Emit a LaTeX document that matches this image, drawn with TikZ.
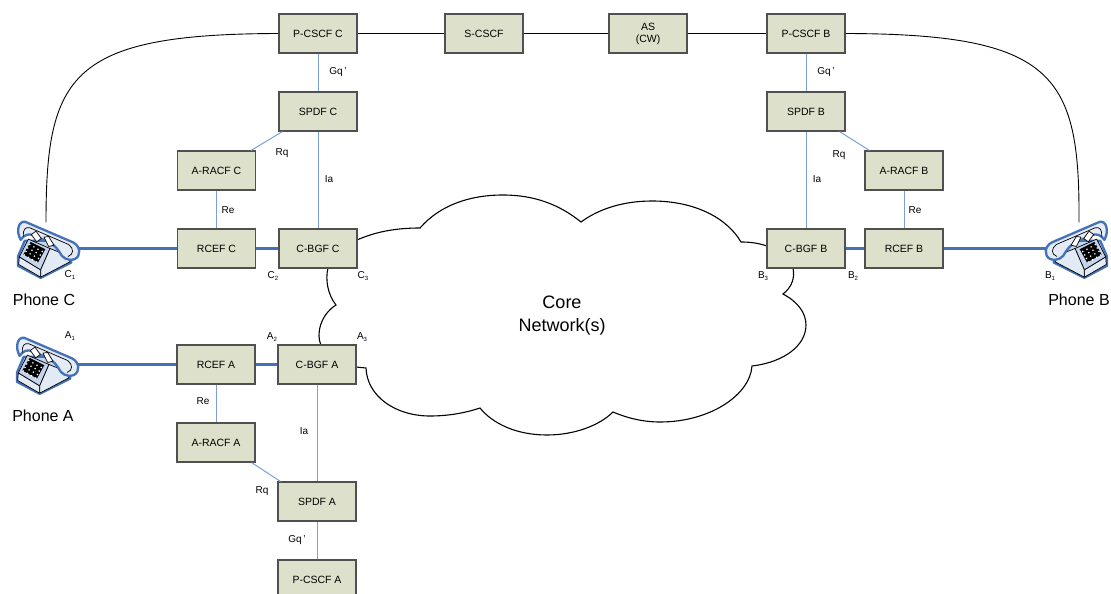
\documentclass[tikz,border=0pt]{standalone}
\usepackage{fontspec}
\setmainfont{Liberation Sans}
\newcommand*{\boxfont}{\fontsize{10.5}{12}\selectfont}
\newcommand*{\portn}[2]{#1\raisebox{-2pt}{\fontsize{6}{6}\selectfont #2}}
\definecolor{boxfill}{HTML}{DDE1CB}
\definecolor{boxedge}{HTML}{505050}
\definecolor{ctrl}{HTML}{7BA0D8}
\definecolor{media}{HTML}{4472B8}
\definecolor{phonelight}{HTML}{E4EBF5}
\definecolor{phonemid}{HTML}{C3D4EC}
\usetikzlibrary{arrows}
\tikzstyle{base}=[x=1pt, y=-1pt]
\tikzstyle{box}=[draw=boxedge, line width=1.1pt, fill=boxfill, minimum width=78pt, minimum height=39pt, inner sep=0pt, align=center, font=\boxfont]
\tikzstyle{lbl}=[inner sep=0pt, font=\fontsize{10}{12}\selectfont]
\tikzstyle{phonelbl}=[inner sep=0pt, font=\fontsize{16}{18}\selectfont]
\tikzstyle{phonebox}=[minimum width=56pt, minimum height=52pt, inner sep=0pt]
\tikzstyle{sig}=[black, line width=0.9pt]
\tikzstyle{ctl}=[ctrl, line width=1pt]
\tikzstyle{med}=[media, line width=3pt]
\tikzstyle{phoneline}=[media, line width=2.3pt, line join=round]
\tikzstyle{phoneink}=[black, line width=0.7pt, line join=round]
% telephone, drawn in a 216 x 216 grid centred on its node
\tikzset{phonepic/.pic={
    \begin{scope}[shift={(-108,-108)}]
        \draw [phoneline, fill=phonemid] (44,85) -- (24,132) -- (24,160) -- (92,196) -- (184,150) -- (178,125) -- (120,85) -- cycle;
        \draw [phoneink, fill=phonelight] (28,133) -- (92,172) -- (92,194) -- (26,156) -- cycle;
        \draw [phoneink, fill=phonemid] (55,80) -- (28,133) -- (92,172) -- (120,108) -- cycle;
        \draw [phoneink, fill=phonemid!50!white] (120,108) -- (92,172) -- (92,194) -- (180,148) -- (170,128) -- cycle;
        \fill [black] (62,88) -- (40,126) -- (84,150) -- (106,110) -- cycle;
        \foreach \i in {0,...,3}
            \foreach \j in {0,...,3}
                \fill [white] ({59+\i*12.5-\j*5.5},{96+\i*7+\j*10.5}) circle (2.6);
        \draw [phoneline, fill=phonelight] (32,82) .. controls (18,58) and (24,24) .. (46,28) -- (190,90) .. controls (212,102) and (214,130) .. (194,140) .. controls (172,146) and (156,136) .. (148,118) .. controls (138,100) and (118,88) .. (92,78) -- (70,68) .. controls (54,62) and (42,68) .. (32,82) -- cycle;
        \draw [phoneink] (40,72) .. controls (38,52) and (46,42) .. (60,46) -- (176,96) .. controls (192,108) and (192,126) .. (174,132);
        \draw [phoneink, fill=white] (64,66) -- (78,56) -- (94,78) -- (80,88) -- cycle;
        \draw [phoneink, fill=white] (102,74) -- (116,72) -- (132,98) -- (116,102) -- cycle;
    \end{scope}
}}

\begin{document}
\begin{tikzpicture}[base]
    \clip (0,0) rectangle (1111,594);
    \path [use as bounding box] (0,0) rectangle (1111,594);

    % core network
    \draw [black, line width=1.1pt, fill=white] (357,240) .. controls (375,232) and (395,228) .. (420,228)
        .. controls (440,205) and (470,195) .. (503,195) .. controls (535,195) and (560,205) .. (581,222)
        .. controls (600,208) and (625,201) .. (652,201) .. controls (695,201) and (727,218) .. (741,242)
        .. controls (750,242) and (758,243) .. (767,246) -- (793,268)
        .. controls (795,278) and (792,287) .. (783,294)
        .. controls (798,302) and (806,313) .. (806,325) .. controls (806,345) and (785,362) .. (752,366)
        .. controls (750,395) and (710,422) .. (660,422) .. controls (643,422) and (627,418) .. (613,412)
        .. controls (600,425) and (575,435) .. (547,435) .. controls (517,435) and (493,424) .. (480,408)
        .. controls (465,413) and (448,416) .. (430,416) .. controls (395,416) and (367,396) .. (366,368)
        -- (356,367) -- (321,345)
        .. controls (316,335) and (320,315) .. (336,305)
        .. controls (328,295) and (325,280) .. (328,268) -- cycle;
    \node [inner sep=0pt, align=center, font=\fontsize{18}{23}\selectfont] (core) at (562,316) {Core\\Network(s)};

    % phones
    \node [phonebox] (phoneC) at (46,248.5) {};
    \node [phonebox] (phoneA) at (45,364.5) {};
    \node [phonebox] (phoneB) at (1079,248.5) {};
    \node [phonelbl] (namC) at (44,300) {Phone C};
    \node [phonelbl] (namA) at (43,416) {Phone A};
    \node [phonelbl] (namB) at (1079,300) {Phone B};

    % top row
    \node [box] (pcscfC) at (318,33.5) {P-CSCF C};
    \node [box] (scscf) at (484,33.5) {S-CSCF};
    \node [box] (as) at (648,33.5) {AS\\(CW)};
    \node [box] (pcscfB) at (806,33.5) {P-CSCF B};

    % side C
    \node [box] (spdfC) at (318,111.5) {SPDF C};
    \node [box] (aracfC) at (216.5,170.5) {A-RACF C};
    \node [box] (rcefC) at (216.5,248.5) {RCEF C};
    \node [box] (cbgfC) at (318,248.5) {C-BGF C};

    % side B
    \node [box] (spdfB) at (806,111.5) {SPDF B};
    \node [box] (aracfB) at (904,170.5) {A-RACF B};
    \node [box] (rcefB) at (904,248.5) {RCEF B};
    \node [box] (cbgfB) at (806,248.5) {C-BGF B};

    % side A
    \node [box] (rcefA) at (216,364.5) {RCEF A};
    \node [box] (cbgfA) at (317,364.5) {C-BGF A};
    \node [box] (aracfA) at (216,442.5) {A-RACF A};
    \node [box] (spdfA) at (317,501.5) {SPDF A};
    \node [box] (pcscfA) at (317,579.5) {P-CSCF A};

    % signalling
    \draw [sig] (pcscfC) -- (scscf);
    \draw [sig] (scscf) -- (as);
    \draw [sig] (as) -- (pcscfB);
    \draw [sig] (pcscfC.west) .. controls (70,34) and (46,75) .. (phoneC.north);
    \draw [sig] (pcscfB.east) .. controls (1055,34) and (1080,75) .. (phoneB.north);

    % control
    \draw [ctl] (pcscfC) -- (spdfC);
    \draw [ctl] (spdfC) -- (cbgfC);
    \draw [ctl] (aracfC) -- (rcefC);
    \draw [ctl] ([xshift=4pt]spdfC.south west) -- ([xshift=-5pt]aracfC.north east);
    \draw [ctl] (pcscfB) -- (spdfB);
    \draw [ctl] (spdfB) -- (cbgfB);
    \draw [ctl] (aracfB) -- (rcefB);
    \draw [ctl] ([xshift=-6pt]spdfB.south east) -- ([xshift=5pt]aracfB.north west);
    \draw [ctl] (cbgfA) -- (spdfA);
    \draw [ctl] (spdfA) -- (pcscfA);
    \draw [ctl] (rcefA) -- (aracfA);
    \draw [ctl] ([xshift=-4pt]aracfA.south east) -- ([xshift=3pt]spdfA.north west);

    % media
    \draw [med] (phoneC.east) -- (rcefC);
    \draw [med] (rcefC) -- (cbgfC);
    \draw [med] (phoneA.east) -- (rcefA);
    \draw [med] (rcefA) -- (cbgfA);
    \draw [med] (phoneB.west) -- (rcefB);
    \draw [med] (rcefB) -- (cbgfB);

    \pic at (phoneC) [scale=1/3] {phonepic};
    \pic at (phoneA) [scale=1/3] {phonepic};
    \pic at (phoneB) [xscale=-1/3, yscale=1/3] {phonepic};

    % interface labels
    \node [lbl] (gqC) at (338,72) {Gq\,'};
    \node [lbl] (gqB) at (826,72) {Gq\,'};
    \node [lbl] (gqA) at (297,540) {Gq\,'};
    \node [lbl] (rqC) at (282,153) {Rq};
    \node [lbl] (rqB) at (839,155) {Rq};
    \node [lbl] (rqA) at (262,491) {Rq};
    \node [lbl] (iaC) at (329,179) {Ia};
    \node [lbl] (iaB) at (817,179) {Ia};
    \node [lbl] (iaA) at (304,431) {Ia};
    \node [lbl] (reC) at (228,210) {Re};
    \node [lbl] (reB) at (915,210) {Re};
    \node [lbl] (reA) at (203,401) {Re};

    % reference points
    \node [lbl] (portC1) at (70,275) {\portn{C}{1}};
    \node [lbl] (portC2) at (273,276) {\portn{C}{2}};
    \node [lbl] (portC3) at (363,276) {\portn{C}{3}};
    \node [lbl] (portA1) at (70,336) {\portn{A}{1}};
    \node [lbl] (portA2) at (272,337) {\portn{A}{2}};
    \node [lbl] (portA3) at (362,337) {\portn{A}{3}};
    \node [lbl] (portB1) at (1050,276) {\portn{B}{1}};
    \node [lbl] (portB2) at (853,276) {\portn{B}{2}};
    \node [lbl] (portB3) at (763,276) {\portn{B}{3}};
\end{tikzpicture}
\end{document}
